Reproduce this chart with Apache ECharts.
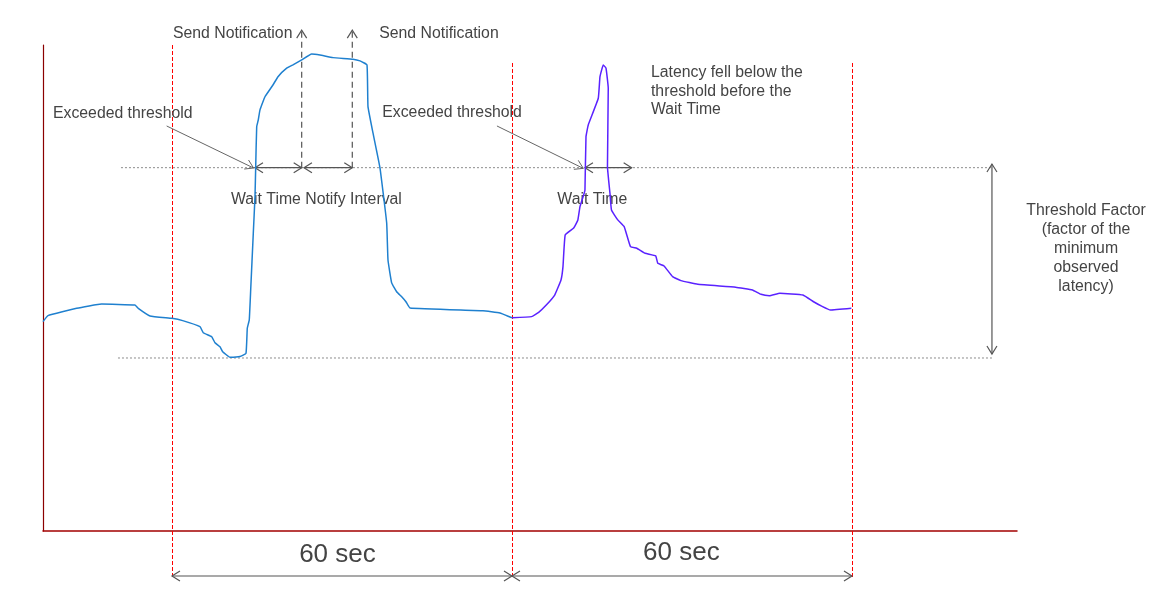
<!DOCTYPE html>
<html><head><meta charset="utf-8">
<script src="https://cdn.jsdelivr.net/npm/echarts@6/dist/echarts.min.js"></script>
<style>html,body{margin:0;padding:0;background:#fff}#c{width:1164px;height:590px}</style>
</head><body><div id="c"></div>
<script>
// ---- data (time in seconds, latency in ms) ----
const blueTime = [-22.76,-21.88,-16.82,-12.41,-6.53,-5.95,-3.88,0,1.89,4.94,5.52,7.01,7.59,8.47,8.95,10.24,12.0,13.06,13.29,13.64,13.89,14.35,14.65,14.77,14.95,15.23,15.53,16.41,17.82,18.71,20.24,21.35,22.89,24.65,26.12,28.41,31.94,33.18,34.41,34.59,35.47,36.71,37.89,38.12,38.77,39.65,40.54,41.29,42.0,54.88,57.88,59.65,60.0];
const blueLatency = [12.10,12.45,12.87,13.12,13.06,12.87,12.43,12.29,12.16,11.81,11.46,11.23,10.88,10.65,10.36,10.04,10.08,10.27,11.72,12.20,13.93,17.21,19.32,20.98,23.37,23.76,24.34,25.10,25.78,26.26,26.75,26.94,27.23,27.57,27.51,27.36,27.27,27.17,26.94,24.53,23.01,20.98,17.80,15.66,14.34,13.83,13.54,13.25,12.89,12.73,12.60,12.37,12.33];
const purpleTime = [60.0,63.46,64.71,66.05,67.54,68.65,69.0,69.39,70.89,71.63,72.0,72.74,72.88,73.06,73.46,75.23,75.53,76.11,76.59,76.99,76.85,77.29,77.56,78.67,79.80,80.91,82.02,83.51,85.36,85.73,86.84,88.34,89.82,92.79,99.48,102.44,103.94,105.42,107.28,111.35,113.22,114.64,116.19,119.89];
const purpleLatency = [12.33,12.39,12.64,13.06,13.64,14.51,15.28,17.11,17.51,17.98,18.75,19.52,19.71,22.79,23.47,25.01,26.26,26.94,26.75,25.59,21.06,19.52,18.55,17.98,17.59,16.43,16.34,16.05,15.90,15.47,15.32,14.70,14.47,14.26,14.09,13.93,13.68,13.60,13.74,13.64,13.25,13.00,12.77,12.87];
const minLatency = 10;
const thresholdFactor = 2.1;
const windowStarts = [0, 60, 120];
const windowLabel = '60 sec';
const notifyLabel = 'Send Notification';
const exceedLabel = 'Exceeded threshold';
const waitNotifyLabel = 'Wait Time Notify Interval';
const waitLabel = 'Wait Time';
const fellLabel = 'Latency fell below the\nthreshold before the\nWait Time';
const factorLabel = 'Threshold Factor\n(factor of the\nminimum\nobserved\nlatency)';

const threshold = minLatency * thresholdFactor;
const zip = (a, b) => a.map((x, i) => [x, b[i]]);

// ---- annotation geometry (data units) ----
const X_MIN = -22.76, X_MAX = 149.12, Y_MIN = 0, Y_MAX = 28.09;
const guideFrom = [-9.0, -9.53], guideTo = 144.7;
const redTop = [28.09, 27.05, 27.05], redBottom = -2.72;
const dimY = -2.6;
const waitArrows = [[14.65, 22.89], [23.29, 31.82], [72.88, 81.12]];
const notifyArrows = [22.89, 31.82], notifyTip = 28.95;
const pointers = [[-0.94, 23.41, 14.4, 20.98], [57.35, 23.41, 72.58, 20.96]];
const factorArrow = [144.7, 21.21, 10.23];
const FONT = '"Liberation Sans", Arial, Helvetica, sans-serif';
const TXT = '#444';
const texts = [
  {text: notifyLabel, t: 0.18, v: 28.74},
  {text: notifyLabel, t: 36.58, v: 28.74},
  {text: exceedLabel, t: -21.0, v: 24.14},
  {text: exceedLabel, t: 37.11, v: 24.2},
  {text: waitNotifyLabel, t: 10.41, v: 19.15},
  {text: waitLabel, t: 68.0, v: 19.15},
  {text: fellLabel, t: 84.53, v: 27.0, va: 'top', lh: 18.5},
  {text: factorLabel, t: 161.3, v: 16.3, align: 'center', lh: 19},
  {text: windowLabel, t: 29.2, v: -1.38, align: 'center', size: 26},
  {text: windowLabel, t: 89.9, v: -1.29, align: 'center', size: 26}
];

function renderAnnotations(params, api) {
  const ch = [];
  const P = (t, v) => api.coord([t, v]);
  const seg = (a, b, style) => ch.push({type: 'line', shape: {x1: a[0], y1: a[1], x2: b[0], y2: b[1]}, style});
  const head = (tip, from, style) => {
    const dx = tip[0] - from[0], dy = tip[1] - from[1];
    const len = Math.hypot(dx, dy), ux = dx / len, uy = dy / len;
    const L = 8, W = 5, nx = -uy, ny = ux;
    ch.push({type: 'polyline', shape: {points: [
      [tip[0] - L * ux + W * nx, tip[1] - L * uy + W * ny], tip,
      [tip[0] - L * ux - W * nx, tip[1] - L * uy - W * ny]]}, style});
  };
  const arrowSt = {stroke: '#555', lineWidth: 1.2, fill: null};
  [threshold, minLatency].forEach((y, i) => seg(P(guideFrom[i], y), P(guideTo, y), {stroke: '#8c8c8c', lineWidth: 1, lineDash: [2, 2]}));
  windowStarts.forEach((t, i) => {
    const a = P(t, redTop[i]), b = P(t, redBottom);
    const x = Math.round(a[0]) + 0.5;
    seg([x, a[1]], [x, b[1]], {stroke: '#ff0000', lineWidth: 1, lineDash: [4, 2]});
  });
  for (let i = 0; i < windowStarts.length - 1; i++) {
    const a = P(windowStarts[i], dimY), b = P(windowStarts[i + 1], dimY);
    seg(a, b, arrowSt); head(a, b, arrowSt); head(b, a, arrowSt);
  }
  waitArrows.forEach(w => {
    const a = P(w[0], threshold), b = P(w[1], threshold);
    seg(a, b, arrowSt); head(a, b, arrowSt); head(b, a, arrowSt);
  });
  notifyArrows.forEach(t => {
    const a = P(t, threshold), b = P(t, notifyTip);
    seg(a, b, {stroke: '#555', lineWidth: 1.2, lineDash: [6, 4]}); head(b, a, arrowSt);
  });
  pointers.forEach(p => {
    const a = P(p[0], p[1]), b = P(p[2], p[3]);
    seg(a, b, {stroke: '#666', lineWidth: 1}); head(b, a, {stroke: '#666', lineWidth: 1, fill: null});
  });
  {
    const a = P(factorArrow[0], factorArrow[1]), b = P(factorArrow[0], factorArrow[2]);
    seg(a, b, arrowSt); head(a, b, arrowSt); head(b, a, arrowSt);
  }
  texts.forEach(o => {
    const p = P(o.t, o.v);
    ch.push({type: 'text', style: {
      text: o.text, x: p[0], y: p[1], fill: TXT,
      fontSize: o.size || 15.8, fontFamily: FONT,
      align: o.align || 'left', verticalAlign: o.va || 'middle',
      lineHeight: o.lh || undefined
    }});
  });
  return {type: 'group', children: ch};
}

const chart = echarts.init(document.getElementById('c'), null, {renderer: 'canvas'});
chart.setOption({
  animation: false,
  backgroundColor: '#fff',
  grid: {left: 43, right: 147, top: 45, bottom: 59, containLabel: false},
  xAxis: {type: 'value', min: X_MIN, max: X_MAX,
    axisLine: {onZero: false, lineStyle: {color: '#a30000', width: 1.5}},
    axisTick: {show: false}, axisLabel: {show: false}, splitLine: {show: false}},
  yAxis: {type: 'value', min: Y_MIN, max: Y_MAX,
    axisLine: {show: true, onZero: false, lineStyle: {color: '#8b0000', width: 1.2}},
    axisTick: {show: false}, axisLabel: {show: false}, splitLine: {show: false}},
  series: [
    {type: 'custom', renderItem: renderAnnotations, data: [[0, 0]], clip: false, silent: true, z: 1},
    {type: 'line', data: zip(blueTime, blueLatency), showSymbol: false, symbol: 'none', smooth: 0.1,
      lineStyle: {color: '#1f80cf', width: 1.5}, z: 3},
    {type: 'line', data: zip(purpleTime, purpleLatency), showSymbol: false, symbol: 'none', smooth: 0.1,
      lineStyle: {color: '#5a22ff', width: 1.5}, z: 3}
  ]
});
</script></body></html>
